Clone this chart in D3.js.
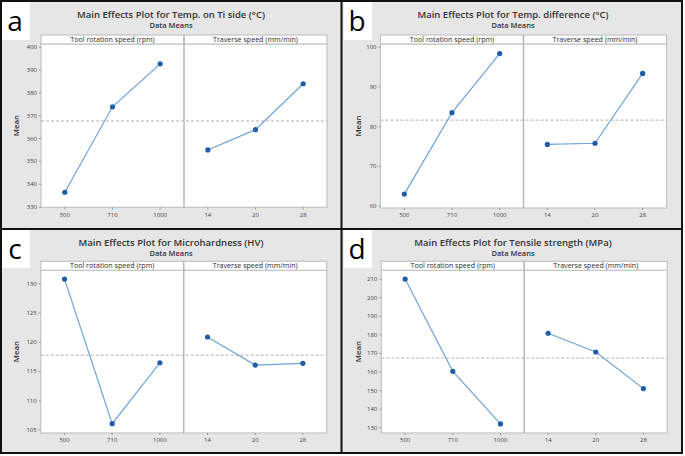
<!DOCTYPE html>
<html>
<head>
<meta charset="utf-8">
<script src="https://cdn.jsdelivr.net/npm/d3@7"></script>
<style>
  body { margin: 0; background: #fff; }
  text { font-family: "Open Sans", "Noto Sans", sans-serif; }
</style>
</head>
<body>
<svg id="chart" width="685" height="456"></svg>
<script>
// data
var letters = ["a", "b", "c", "d"];
var titles = [
  "Main Effects Plot for Temp. on Ti side (°C)",
  "Main Effects Plot for Temp. difference (°C)",
  "Main Effects Plot for Microhardness (HV)",
  "Main Effects Plot for Tensile strength (MPa)"
];
var factorNames = ["Tool rotation speed (rpm)", "Traverse speed (mm/min)"];
var toolSpeeds = ["500", "710", "1000"];
var traverseSpeeds = ["14", "20", "28"];

var tempTiTool = [336.3, 373.7, 392.5];
var tempTiTraverse = [354.8, 363.7, 383.8];
var tempDiffTool = [62.9, 83.4, 98.3];
var tempDiffTraverse = [75.4, 75.7, 93.3];
var hardnessTool = [130.7, 106.0, 116.4];
var hardnessTraverse = [120.8, 116.0, 116.3];
var tensileTool = [209.8, 160.1, 131.8];
var tensileTraverse = [180.6, 170.5, 150.8];

var tempTiTicks = [330, 340, 350, 360, 370, 380, 390, 400];
var tempDiffTicks = [60, 70, 80, 90, 100];
var hardnessTicks = [105, 110, 115, 120, 125, 130];
var tensileTicks = [130, 140, 150, 160, 170, 180, 190, 200, 210];

var tempTiRange = [329.7, 401.2];
var tempDiffRange = [59.4, 100.7];
var hardnessRange = [104.4, 132.2];
var tensileRange = [126.9, 214.5];

var toolSeries = [tempTiTool, tempDiffTool, hardnessTool, tensileTool];
var traverseSeries = [tempTiTraverse, tempDiffTraverse, hardnessTraverse, tensileTraverse];
var tickSets = [tempTiTicks, tempDiffTicks, hardnessTicks, tensileTicks];
var ranges = [tempTiRange, tempDiffRange, hardnessRange, tensileRange];

// layout
var origins = [[0, 0], [342, 0], [0, 228], [342, 228]];
var boxes = [
  {l: 41, t: 44, b: 207.3},
  {l: 38.5, t: 44, b: 208},
  {l: 40.7, t: 42.3, b: 205},
  {l: 39.3, t: 42.3, b: 205}
];
var plotW = 286, headH = 9;
var lineColor = "#6fa3dc", dotColor = "#1f5dab";

var svg = d3.select("#chart");

svg.append("rect").attr("x", 0).attr("y", 0).attr("width", 683).attr("height", 454)
  .attr("fill", "#e6e6e6");

origins.forEach(function(o, i) {
  var g = svg.append("g").attr("transform", "translate(" + o[0] + "," + o[1] + ")");
  var box = boxes[i];
  var half = plotW / 2;

  // letter box
  g.append("rect").attr("x", 2).attr("y", 2).attr("width", 28).attr("height", 38).attr("fill", "#fff");
  g.append("text").attr("x", 15).attr("y", 31).attr("text-anchor", "middle")
    .attr("font-size", 28).attr("fill", "#000").text(letters[i]);

  // titles
  g.append("text").attr("x", 171).attr("y", 18).attr("text-anchor", "middle")
    .attr("font-size", 9.5).attr("font-weight", 600).attr("fill", "#333").text(titles[i]);
  g.append("text").attr("x", 171).attr("y", 28).attr("text-anchor", "middle")
    .attr("font-size", 7.5).attr("font-weight", 600).attr("fill", "#333").text("Data Means");

  var y = d3.scaleLinear().domain(ranges[i]).range([box.b, box.t]);

  // plot area
  g.append("rect").attr("x", box.l).attr("y", box.t).attr("width", plotW).attr("height", box.b - box.t)
    .attr("fill", "#fff").attr("stroke", "#c4c4c4").attr("stroke-width", 1.2);

  // strip headers
  factorNames.forEach(function(f, k) {
    g.append("rect").attr("x", box.l + k * half).attr("y", box.t - headH)
      .attr("width", half).attr("height", headH)
      .attr("fill", "#fff").attr("stroke", "#c4c4c4").attr("stroke-width", 1.2);
    g.append("text").attr("x", box.l + k * half + half / 2).attr("y", box.t - 2)
      .attr("text-anchor", "middle").attr("font-size", 7.1).attr("fill", "#2a2a2a").text(f);
  });

  // divider
  g.append("line").attr("x1", box.l + half).attr("x2", box.l + half)
    .attr("y1", box.t - headH).attr("y2", box.b)
    .attr("stroke", "#b8b8b8").attr("stroke-width", 1.5);

  // y axis
  var yAxis = d3.axisLeft(y).tickValues(tickSets[i]).tickSize(2).tickPadding(2);
  var ya = g.append("g").attr("transform", "translate(" + box.l + ",0)").call(yAxis);
  ya.select(".domain").remove();
  ya.selectAll("line").attr("stroke", "#999");
  ya.selectAll("text").attr("font-size", 6).attr("fill", "#444")
    .attr("font-family", "\"Open Sans\", sans-serif");

  g.append("text").attr("transform", "translate(19," + ((box.t + box.b) / 2) + ") rotate(-90)")
    .attr("text-anchor", "middle").attr("font-size", 7.8).attr("font-weight", 600)
    .attr("fill", "#333").text("Mean");

  // grand mean
  var grand = d3.mean(toolSeries[i]);
  g.append("line").attr("x1", box.l).attr("x2", box.l + plotW)
    .attr("y1", y(grand)).attr("y2", y(grand))
    .attr("stroke", "#b0b0b0").attr("stroke-width", 1).attr("stroke-dasharray", "3,2");

  // facets
  [[toolSpeeds, toolSeries[i]], [traverseSpeeds, traverseSeries[i]]].forEach(function(pair, k) {
    var cats = pair[0], vals = pair[1];
    var x = d3.scaleBand().domain(cats).range([box.l + k * half, box.l + (k + 1) * half]);
    var xAxis = d3.axisBottom(x).tickSize(2).tickPadding(3);
    var xa = g.append("g").attr("transform", "translate(0," + box.b + ")").call(xAxis);
    xa.select(".domain").remove();
    xa.selectAll("line").attr("stroke", "#999");
    xa.selectAll("text").attr("font-size", 6).attr("fill", "#444")
      .attr("font-family", "\"Open Sans\", sans-serif");

    var pts = vals.map(function(v, j) { return [x(cats[j]) + x.bandwidth() / 2, y(v)]; });
    g.append("path").attr("d", d3.line()(pts)).attr("fill", "none")
      .attr("stroke", lineColor).attr("stroke-width", 1.2);
    g.selectAll(null).data(pts).enter().append("circle")
      .attr("cx", function(d) { return d[0]; })
      .attr("cy", function(d) { return d[1]; })
      .attr("r", 2.6).attr("fill", dotColor);
  });
});

// black frame and panel separators
svg.append("rect").attr("x", 1).attr("y", 1).attr("width", 681).attr("height", 452)
  .attr("fill", "none").attr("stroke", "#111").attr("stroke-width", 2);
svg.append("line").attr("x1", 341.5).attr("x2", 341.5).attr("y1", 0).attr("y2", 454)
  .attr("stroke", "#111").attr("stroke-width", 2);
svg.append("line").attr("x1", 0).attr("x2", 683).attr("y1", 229).attr("y2", 229)
  .attr("stroke", "#111").attr("stroke-width", 2);
</script>
</body>
</html>
